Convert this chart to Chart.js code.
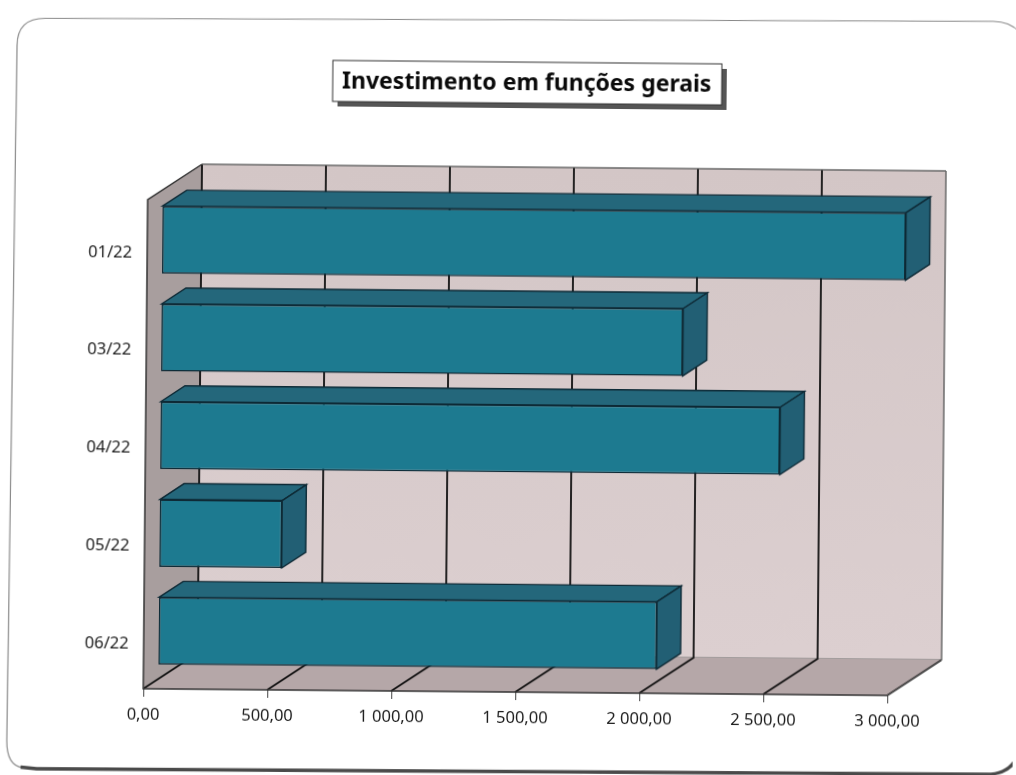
<!DOCTYPE html>
<html><head><meta charset="utf-8">
<style>
html,body{margin:0;padding:0;background:#fff;width:1016px;height:775px;overflow:hidden}
canvas{display:block;transform:rotate(0.009rad);transform-origin:508px 387px;filter:blur(0.35px)}
</style>
<script src="https://cdn.jsdelivr.net/npm/chart.js@4/dist/chart.umd.min.js"></script>
</head><body>
<canvas id="c" width="1016" height="775"></canvas>
<script>
const categories = ['01/22','03/22','04/22','05/22','06/22'];
const values = [3000, 2105, 2500, 495, 2010];
const titleText = 'Investimento em funções gerais';
const axisMax = 3000, axisStep = 500;

const FONT = '"Noto Sans", sans-serif';
const wall = {dx:54, dy:-36};
const bar3d = {dx:24, dy:-16};
const barShift = {x:14.5, y:-9};
const EDGE = '#0e2a36';

function poly(ctx, pts, fill, stroke, lw){
  ctx.beginPath();
  pts.forEach((p,i)=> i?ctx.lineTo(p[0],p[1]):ctx.moveTo(p[0],p[1]));
  ctx.closePath();
  if(fill){ctx.fillStyle=fill;ctx.fill();}
  if(stroke){ctx.strokeStyle=stroke;ctx.lineWidth=lw||1;ctx.stroke();}
}
const scene = {
  id:'scene',
  afterLayout(chart){
    const t = chart.titleBlock; t.left = 32; t.right = 1016;
    chart.scales.y.getLabelItems().forEach(i=>{ i.options.translation[1] += 4; });
  },
  beforeDraw(chart){
    const c = chart.ctx;
    c.save();
    c.fillStyle='#fff'; c.fillRect(-20,-20,1060,820);
    // outer rounded frame
    c.beginPath();
    c.moveTo(42,22.5); c.lineTo(990,17); c.quadraticCurveTo(1016,17,1024,42);
    c.strokeStyle='#8a8a8a'; c.lineWidth=1.2; c.stroke();
    c.beginPath();
    c.moveTo(42,22.5); c.quadraticCurveTo(14,22.5,14,50); c.lineTo(10,745); c.quadraticCurveTo(10,770,26,772);
    c.stroke();
    c.beginPath(); c.moveTo(24,771.5); c.lineTo(40,773); c.lineTo(990,770); c.quadraticCurveTo(1018,770,1024,742);
    c.strokeStyle='#4a4a4a'; c.lineWidth=3.5; c.stroke();
    // title box
    const tb = chart.titleBlock, cx=(tb.left+tb.right)/2;
    const bx=cx-194, by=62, bw=389, bh=41;
    c.fillStyle='#555'; c.fillRect(bx+5,by+5,bw,bh);
    c.fillStyle='#fff'; c.fillRect(bx,by,bw,bh);
    c.strokeStyle='#333'; c.lineWidth=1; c.strokeRect(bx,by,bw,bh);
    c.restore();
  },
  beforeDatasetsDraw(chart){
    const c = chart.ctx, a = chart.chartArea, x = chart.scales.x;
    const L=a.left,R=a.right,T=a.top,B=a.bottom,dx=wall.dx,dy=wall.dy;
    c.save();
    const g = c.createLinearGradient(0,T+dy,0,B+dy);
    g.addColorStop(0,'#d3c6c6'); g.addColorStop(1,'#dccfd0');
    poly(c,[[L+dx,T+dy],[R+dx,T+dy],[R+dx,B+dy],[L+dx,B+dy]],g,'#6a6a6a',1);
    poly(c,[[L,T],[L+dx,T+dy],[L+dx,B+dy],[L,B]],'#a89e9e');
    poly(c,[[L,B],[R,B],[R+dx,B+dy],[L+dx,B+dy]],'#b5a7a8');
    c.strokeStyle='#111'; c.lineWidth=1.8;
    x.ticks.forEach(t=>{
      const px = x.getPixelForValue(t.value);
      c.beginPath(); c.moveTo(px,B); c.lineTo(px+dx,B+dy);
      if(t.value < axisMax) c.lineTo(px+dx,T+dy);
      c.stroke();
    });
    c.lineWidth=1.5; c.strokeStyle='#333';
    c.beginPath(); c.moveTo(L+dx,T+dy); c.lineTo(L,T); c.lineTo(L,B); c.lineTo(R,B); c.stroke();
    c.lineWidth=1; c.strokeStyle='#666';
    c.beginPath(); c.moveTo(R,B); c.lineTo(R+dx,B+dy); c.lineTo(R+dx,T+dy); c.lineTo(L+dx,T+dy); c.stroke();
    // 3D faces of the bars, then shift the front faces into the same plane
    c.translate(barShift.x,barShift.y);
    chart.getDatasetMeta(0).data.forEach(el=>{
      const top=el.y-el.height/2, bot=el.y+el.height/2, l=el.base, r=el.x, d=bar3d;
      poly(c,[[l,top],[r,top],[r+d.dx,top+d.dy],[l+d.dx,top+d.dy]],'#24677b',EDGE,1.4);
      poly(c,[[r,top],[r+d.dx,top+d.dy],[r+d.dx,bot+d.dy],[r,bot]],'#225f74',EDGE,1.4);
    });
  },
  afterDatasetsDraw(chart){ chart.ctx.restore(); }
};

new Chart(document.getElementById('c'),{
  type:'bar',
  data:{labels:categories,datasets:[{data:values,backgroundColor:'#1d7a90',borderColor:EDGE,borderWidth:1.5,borderSkipped:false,categoryPercentage:1,barPercentage:0.69}]},
  plugins:[scene],
  options:{
    indexAxis:'y',responsive:false,animation:false,
    layout:{padding:{left:0,right:126,top:0,bottom:0}},
    plugins:{
      legend:{display:false},tooltip:{enabled:false},
      title:{display:true,text:titleText,color:'#0a0a0a',font:{family:FONT,size:23,weight:'bold',lineHeight:1.2},padding:{top:70,bottom:105.4}}
    },
    scales:{
      x:{min:0,max:axisMax,position:'bottom',
        afterFit(s){s.height=775-692;},
        border:{display:false},
        grid:{drawOnChartArea:false,drawTicks:true,tickLength:8,color:'#444'},
        ticks:{stepSize:axisStep,maxRotation:0,padding:8,color:'#1c1c1c',font:{family:FONT,size:16.5},
          callback(v){return v.toFixed(2).replace('.',',').replace(/\B(?=(\d{3})+(?!\d))/g,' ');}}
      },
      y:{
        afterFit(s){s.width=146;},
        border:{display:false},
        grid:{display:false,drawTicks:false},
        ticks:{padding:15,color:'#1c1c1c',font:{family:FONT,size:16.5}}
      }
    }
  }
});
</script>
</body></html>
